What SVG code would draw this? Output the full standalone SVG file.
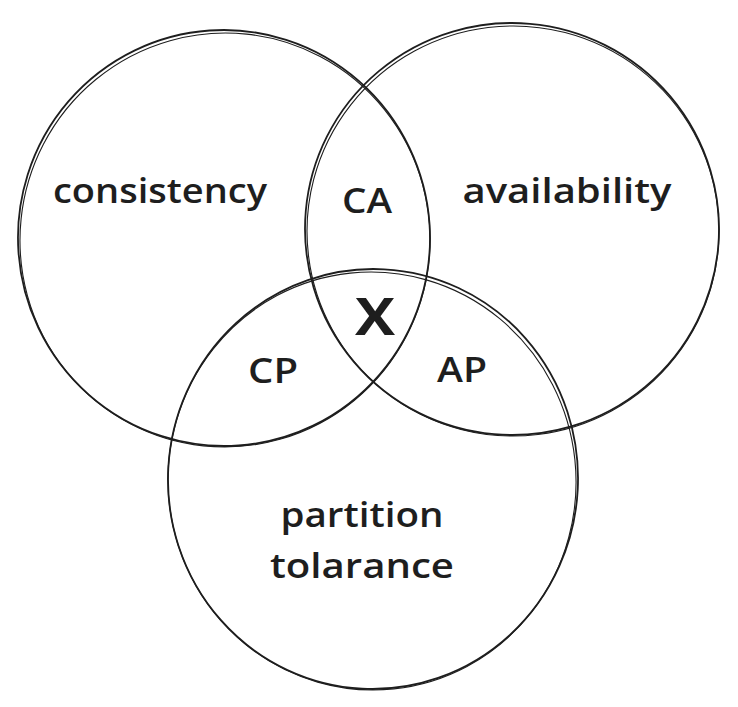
<svg xmlns="http://www.w3.org/2000/svg" width="738" height="707" viewBox="0 0 738 707">
  <style>
    .ring { fill: none; stroke: #1e1e1e; stroke-width: 1.8; stroke-linecap: round; }
    .ring2 { fill: none; stroke: #1e1e1e; stroke-width: 1.1; stroke-linecap: round; }
    .label { font-family: "Open Sans", "Liberation Sans", sans-serif; font-size: 35px; font-weight: 600; fill: #1e1e1e; text-anchor: middle; }
    .mark { font-family: "Open Sans", "Liberation Sans", sans-serif; font-size: 52px; font-weight: bold; fill: #1e1e1e; text-anchor: middle; }
  </style>
  <rect width="738" height="707" fill="#ffffff"/>

  <!-- consistency circle -->
  <g id="consistency">
    <ellipse class="ring" cx="224" cy="238" rx="206" ry="208" transform="rotate(-4 224 238)"/>
    <ellipse class="ring2" cx="225" cy="240" rx="205" ry="207" transform="rotate(6 225 240)"/>
    <text class="label" x="160" y="203" textLength="214" lengthAdjust="spacingAndGlyphs">consistency</text>
  </g>

  <!-- availability circle -->
  <g id="availability">
    <ellipse class="ring" cx="512" cy="229" rx="207" ry="206" transform="rotate(5 512 229)"/>
    <ellipse class="ring2" cx="513" cy="231" rx="206" ry="205" transform="rotate(-7 513 231)"/>
    <text class="label" x="567" y="203" textLength="209" lengthAdjust="spacingAndGlyphs">availability</text>
  </g>

  <!-- partition tolerance circle -->
  <g id="partition">
    <ellipse class="ring" cx="373" cy="479" rx="205" ry="210" transform="rotate(3 373 479)"/>
    <ellipse class="ring2" cx="372" cy="481" rx="204" ry="209" transform="rotate(-6 372 481)"/>
    <text class="label" x="362" y="527" textLength="163" lengthAdjust="spacingAndGlyphs">partition</text>
    <text class="label" x="362" y="578" textLength="184" lengthAdjust="spacingAndGlyphs">tolarance</text>
  </g>

  <!-- pairwise overlaps -->
  <g id="ca">
    <text class="label" x="367" y="213" textLength="50" lengthAdjust="spacingAndGlyphs">CA</text>
  </g>
  <g id="cp">
    <text class="label" x="273" y="383" textLength="50" lengthAdjust="spacingAndGlyphs">CP</text>
  </g>
  <g id="ap">
    <text class="label" x="462" y="382" textLength="50" lengthAdjust="spacingAndGlyphs">AP</text>
  </g>

  <!-- triple overlap -->
  <g id="center">
    <text class="mark" x="375" y="335" textLength="40" lengthAdjust="spacingAndGlyphs">X</text>
  </g>

  <g id="connectors"></g>
</svg>
